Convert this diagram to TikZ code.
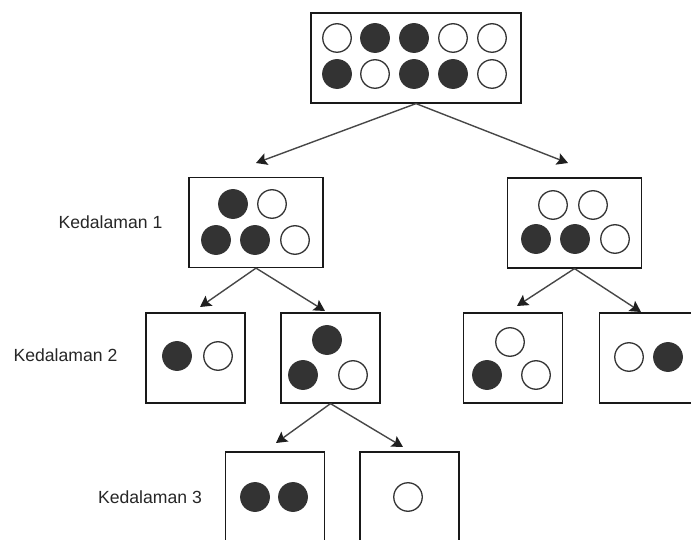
\documentclass[tikz,border=0pt]{standalone}
\usepackage{fontspec}
\setmainfont{Liberation Sans}
\usetikzlibrary{arrows.meta}
\definecolor{ink}{HTML}{333333}
\tikzset{
  box/.style={draw=black!90, line width=1.2pt, fill=white, minimum height=90pt, inner sep=0pt},
  wbox/.style={box, minimum width=134pt},
  nbox/.style={box, minimum width=99pt},
  ball/.style={circle, draw=ink, line width=1.3pt, minimum size=28.5pt, inner sep=0pt},
  dark/.style={ball, fill=ink},
  light/.style={ball, fill=white},
  link/.style={draw=black!72, line width=1.4pt,
    -{Stealth[length=11pt,width=12pt,inset=2pt,color=black!88]}},
  depth/.style={font=\fontsize{17.6}{20}\selectfont, text=black!85, inner sep=0pt}
}
\begin{document}
\begin{tikzpicture}[x=1pt, y=-1pt]
  \useasboundingbox (0,0) rectangle (691,540);
  \clip (0,0) rectangle (691,540);

  % boxes
  \node[box, minimum width=210pt] (root) at (416,58) {};
  \node[wbox] (la) at (256,222.5) {};
  \node[wbox] (lb) at (574.5,223) {};
  \node[nbox] (ma) at (195.5,358) {};
  \node[nbox] (mb) at (330.5,358) {};
  \node[nbox] (mc) at (513,358) {};
  \node[nbox] (md) at (649,358) {};
  \node[nbox] (sa) at (275,497) {};
  \node[nbox] (sb) at (409.5,497) {};

  % root marbles
  \node[light] (r1) at (337,38) {};
  \node[dark]  (r2) at (375,38) {};
  \node[dark]  (r3) at (414,38) {};
  \node[light] (r4) at (453,38) {};
  \node[light] (r5) at (492,38) {};
  \node[dark]  (r6) at (337,74) {};
  \node[light] (r7) at (375,74) {};
  \node[dark]  (r8) at (414,74) {};
  \node[dark]  (r9) at (453,74) {};
  \node[light] (r10) at (492,74) {};

  % depth 1
  \node[dark]  (a1) at (233,204) {};
  \node[light] (a2) at (272,204) {};
  \node[dark]  (a3) at (216,240) {};
  \node[dark]  (a4) at (255,240) {};
  \node[light] (a5) at (295,240) {};

  \node[light] (b1) at (553,205) {};
  \node[light] (b2) at (593,205) {};
  \node[dark]  (b3) at (536,239) {};
  \node[dark]  (b4) at (575,239) {};
  \node[light] (b5) at (615,239) {};

  % depth 2
  \node[dark]  (c1) at (177,356) {};
  \node[light] (c2) at (218,356) {};

  \node[dark]  (d1) at (327,340) {};
  \node[dark]  (d2) at (303,375) {};
  \node[light] (d3) at (353,375) {};

  \node[light] (e1) at (510,342) {};
  \node[dark]  (e2) at (487,375) {};
  \node[light] (e3) at (536,375) {};

  \node[light] (f1) at (629,357) {};
  \node[dark]  (f2) at (668,357) {};

  % depth 3
  \node[dark]  (g1) at (255,497) {};
  \node[dark]  (g2) at (293,497) {};
  \node[light] (h1) at (408,497) {};

  % depth labels
  \node[depth] (k1) at (110.5,222) {Kedalaman 1};
  \node[depth] (k2) at (65.5,355) {Kedalaman 2};
  \node[depth] (k3) at (150,497) {Kedalaman 3};

  % arrow ends
  \coordinate (t1) at (256,163);
  \coordinate (t2) at (568,163);
  \coordinate (t3) at (200,307);
  \coordinate (t4) at (325,311);
  \coordinate (t5) at (517,306);
  \coordinate (t6) at (641,312);
  \coordinate (t7) at (276,443);
  \coordinate (t8) at (403,447);

  % connectors
  \draw[link] (root.south) -- (t1);
  \draw[link] (root.south) -- (t2);
  \draw[link] (la.south) -- (t3);
  \draw[link] (la.south) -- (t4);
  \draw[link] (lb.south) -- (t5);
  \draw[link] (lb.south) -- (t6);
  \draw[link] (mb.south) -- (t7);
  \draw[link] (mb.south) -- (t8);
\end{tikzpicture}
\end{document}
